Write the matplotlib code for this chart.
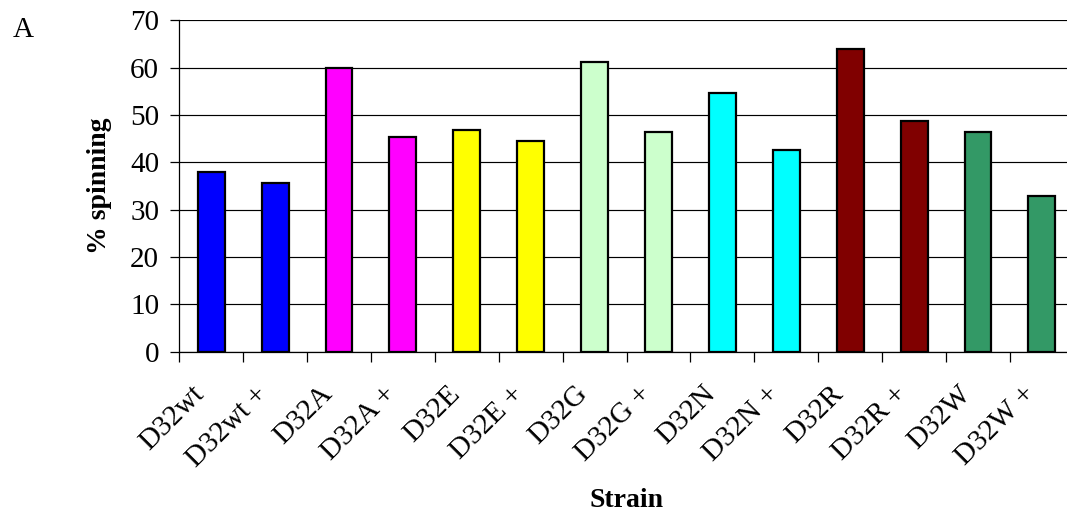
import matplotlib
matplotlib.use("Agg")
import matplotlib.pyplot as plt
import matplotlib.transforms as mtransforms
import numpy as np

strains = ["D32wt", "D32wt +", "D32A", "D32A +", "D32E", "D32E +", "D32G",
           "D32G +", "D32N", "D32N +", "D32R", "D32R +", "D32W", "D32W +"]
spinning = [38.0, 35.6, 60.0, 45.4, 46.8, 44.5, 61.2,
            46.3, 54.6, 42.6, 63.9, 48.7, 46.3, 32.9]
bar_colors = ["#0000FF", "#0000FF", "#FF00FF", "#FF00FF", "#FFFF00", "#FFFF00",
              "#CCFFCC", "#CCFFCC", "#00FFFF", "#00FFFF", "#800000", "#800000",
              "#339966", "#339966"]
y_ticks = [0, 10, 20, 30, 40, 50, 60, 70]

plt.rcParams["font.family"] = ["Liberation Serif", "DejaVu Serif"]

fig = plt.figure(figsize=(10.67, 5.14), dpi=100)
ax = fig.add_axes([0.168, 0.3158, 0.8384, 0.6447])

x = np.arange(len(strains))
ax.bar(x, spinning, width=0.42, color=bar_colors, edgecolor="black",
       linewidth=1.6, zorder=3)

ax.set_xlim(-0.5, len(strains) - 0.5)
ax.set_ylim(0, 70)
ax.set_yticks(y_ticks)
ax.tick_params(axis="y", labelsize=21, length=6.5, width=0.9, pad=8,
               direction="out")
ax.yaxis.grid(True, color="black", linewidth=0.85, zorder=0)

# category boundaries carry the tick marks, labels sit at the centres
ax.set_xticks(x)
ax.set_xticklabels(strains, rotation=45, ha="right", va="center",
                   rotation_mode="anchor")
ax.set_xticks(np.arange(len(strains) + 1) - 0.5, minor=True)
ax.tick_params(axis="x", which="major", length=0, labelsize=21, pad=24)
ax.tick_params(axis="x", which="minor", length=7, width=0.9, direction="out")

shift = mtransforms.ScaledTranslation(-0.11, -0.05, fig.dpi_scale_trans)
for lbl in ax.get_xticklabels():
    lbl.set_transform(lbl.get_transform() + shift)

for side in ("top", "right"):
    ax.spines[side].set_visible(False)
ax.spines["left"].set_linewidth(0.9)
ax.spines["bottom"].set_linewidth(0.9)

fig.text(0.0928, 0.638, "% spinning", rotation=90, fontsize=20,
         fontweight="bold", ha="center", va="center")
fig.text(0.5876, 0.027, "Strain", fontsize=20, fontweight="bold",
         ha="center", va="center")
fig.text(0.0115, 0.942, "A", fontsize=21, ha="left", va="center")

fig.savefig("out.png", dpi=100)
